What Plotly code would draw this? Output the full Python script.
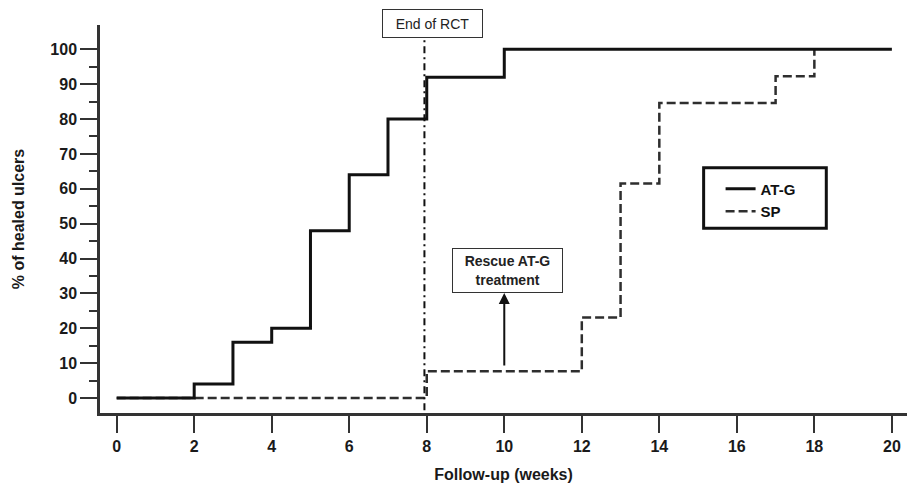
import plotly.graph_objects as go

# ---- data ----
weeks_atg = [0, 2, 3, 4, 5, 6, 7, 8, 10, 20]
healed_atg = [0, 4, 16, 20, 48, 64, 80, 92, 100, 100]
weeks_sp = [0, 8, 12, 13, 14, 17, 18]
healed_sp = [0, 7.7, 23.1, 61.5, 84.6, 92.3, 100]
x_ticks = [0, 2, 4, 6, 8, 10, 12, 14, 16, 18, 20]
y_ticks = [0, 10, 20, 30, 40, 50, 60, 70, 80, 90, 100]
y_minor = [5, 15, 25, 35, 45, 55, 65, 75, 85, 95]
end_rct_week = 8
rescue_week = 10

FONT = "Liberation Sans, Arial, sans-serif"
AX = "#333333"

fig = go.Figure()
fig.add_trace(go.Scatter(
    x=weeks_sp, y=healed_sp, mode="lines", line_shape="hv", name="SP",
    line=dict(color="#2e2e2e", width=2.5, dash="9px,4px"),
    legendgroup="b", legendrank=2))
fig.add_trace(go.Scatter(
    x=weeks_atg, y=healed_atg, mode="lines", line_shape="hv", name="AT-G",
    line=dict(color="#111111", width=3),
    legendgroup="a", legendrank=1))

# vertical dash-dot line (end of RCT)
fig.add_shape(type="line", xref="x", yref="y", x0=end_rct_week - 0.06, x1=end_rct_week - 0.06,
              y0=-3.5, y1=103.3,
              line=dict(color="#111111", width=2, dash="7px,4px,2px,4px"))

# legend frame
fig.add_shape(type="rect", xref="paper", yref="paper",
              x0=0.748, x1=0.900, y0=0.476, y1=0.632,
              line=dict(color="#111111", width=3), fillcolor="rgba(0,0,0,0)")

# End of RCT box
fig.add_annotation(x=8.15, y=1.004, xref="x", yref="paper", yanchor="middle",
                   text="End of RCT",
                   showarrow=False, font=dict(family=FONT, size=14, color="#222"),
                   bordercolor="#333", borderwidth=1, borderpad=5, bgcolor="white",
                   width=89, height=17)

# Rescue box
fig.add_annotation(x=10.09, y=36.6, xref="x", yref="y",
                   text="Rescue AT-G<br>treatment",
                   showarrow=False, font=dict(family=FONT, size=14, color="#222", weight="bold"),
                   bordercolor="#333", borderwidth=1, borderpad=5, bgcolor="white",
                   width=99, height=33)

# arrow
fig.add_annotation(x=rescue_week, y=30.1, ax=rescue_week, ay=8.9,
                   xref="x", yref="y", axref="x", ayref="y",
                   text="", showarrow=True, arrowhead=2, arrowsize=1.1,
                   arrowwidth=2, arrowcolor="#111")

fig.update_layout(
    width=909, height=488,
    margin=dict(l=100, r=2, t=25, b=75),
    paper_bgcolor="white", plot_bgcolor="white",
    font=dict(family=FONT, color="#1a1a1a"),
    showlegend=True,
    legend=dict(x=0.769, y=0.62, xanchor="left", yanchor="top",
                bgcolor="rgba(0,0,0,0)", borderwidth=0,
                traceorder="grouped", tracegroupgap=0,
                font=dict(family=FONT, size=15, color="#111", weight="bold")),
    xaxis=dict(range=[-0.43, 20.39], tickvals=x_ticks, ticks="outside", ticklen=17,
               tickwidth=2, tickcolor=AX, showline=True, linecolor=AX, linewidth=2.5,
               showgrid=False, zeroline=False,
               tickfont=dict(family=FONT, size=16, color="#1a1a1a", weight="bold"),
               title=dict(text="Follow-up (weeks)", standoff=15,
                          font=dict(family=FONT, size=16, color="#1a1a1a", weight="bold")),
               automargin=False),
    yaxis=dict(range=[-4.3, 106.97], tickvals=y_ticks, ticks="outside", ticklen=17,
               tickwidth=2, tickcolor=AX, showline=True, linecolor=AX, linewidth=2.5,
               showgrid=False, zeroline=False,
               minor=dict(tickvals=y_minor, ticks="outside", ticklen=8, tickwidth=2,
                          tickcolor=AX, showgrid=False),
               tickfont=dict(family=FONT, size=16, color="#1a1a1a", weight="bold"),
               title=dict(text="% of healed ulcers", standoff=22,
                          font=dict(family=FONT, size=16, color="#1a1a1a", weight="bold")),
               automargin=False),
)

fig.write_html("out.html", config={"displayModeBar": False},
               post_script="document.body.style.margin='0';document.body.style.overflow='hidden';")
